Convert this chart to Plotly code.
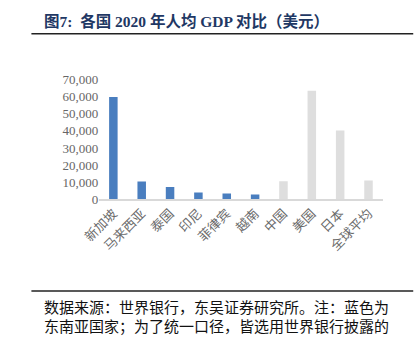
import plotly.graph_objects as go

categories = ["新加坡", "马来西亚", "泰国", "印尼", "菲律宾", "越南", "中国", "美国", "日本", "全球平均"]
gdp_per_capita = [59800, 10400, 7200, 3900, 3300, 2800, 10500, 63500, 40200, 10900]
is_sea = [True, True, True, True, True, True, False, False, False, False]
y_ticks = [0, 10000, 20000, 30000, 40000, 50000, 60000, 70000]

W, H = 418, 342
colors = ["#4A7EBF" if s else "#DEDEDE" for s in is_sea]

fig = go.Figure(go.Bar(x=categories, y=gdp_per_capita, marker=dict(color=colors, line=dict(width=0)), width=0.3))

fig.update_layout(
    width=W, height=H,
    margin=dict(l=0, r=0, t=0, b=0),
    paper_bgcolor="white", plot_bgcolor="white",
    showlegend=False,
    xaxis=dict(domain=[84 / W, 381 / W], showline=True, linecolor="#D9D9D9", linewidth=1.5,
               ticks="", tickangle=-45,
               tickfont=dict(family="Noto Sans CJK SC", size=13, color="#6A6A6A")),
    yaxis=dict(domain=[1 - 201 / H, 1 - 76 / H], range=[0, 70000], tickvals=y_ticks,
               tickformat=",", showgrid=False, zeroline=False, showline=False, ticks="",
               tickfont=dict(family="Liberation Serif", size=13, color="#666666")),
)

fig.add_annotation(x=24 / W, y=1 - 15 / H, xref="paper", yref="paper", xanchor="left", yanchor="middle",
                   text="<b>图7:  各国 2020 年人均 GDP 对比（美元）</b>", showarrow=False,
                   font=dict(family="Liberation Serif, Noto Sans CJK SC", size=15.5, color="#1F3864"))
fig.add_shape(type="line", xref="paper", yref="paper", x0=13 / W, x1=413 / W, y0=1 - 28 / H, y1=1 - 28 / H,
              line=dict(color="#222222", width=1.5))
fig.add_shape(type="line", xref="paper", yref="paper", x0=13 / W, x1=413 / W, y0=1 - 297 / H, y1=1 - 297 / H,
              line=dict(color="#222222", width=1.5))
fig.add_annotation(x=24 / W, y=1 - 313 / H, xref="paper", yref="paper", xanchor="left", yanchor="middle",
                   text="数据来源：世界银行，东吴证券研究所。注：蓝色为", showarrow=False,
                   font=dict(family="Noto Sans CJK SC", size=15, color="#111111"))
fig.add_annotation(x=24 / W, y=1 - 333 / H, xref="paper", yref="paper", xanchor="left", yanchor="middle",
                   text="东南亚国家；为了统一口径，皆选用世界银行披露的", showarrow=False,
                   font=dict(family="Noto Sans CJK SC", size=15, color="#111111"))

fig.write_html("out.html")
